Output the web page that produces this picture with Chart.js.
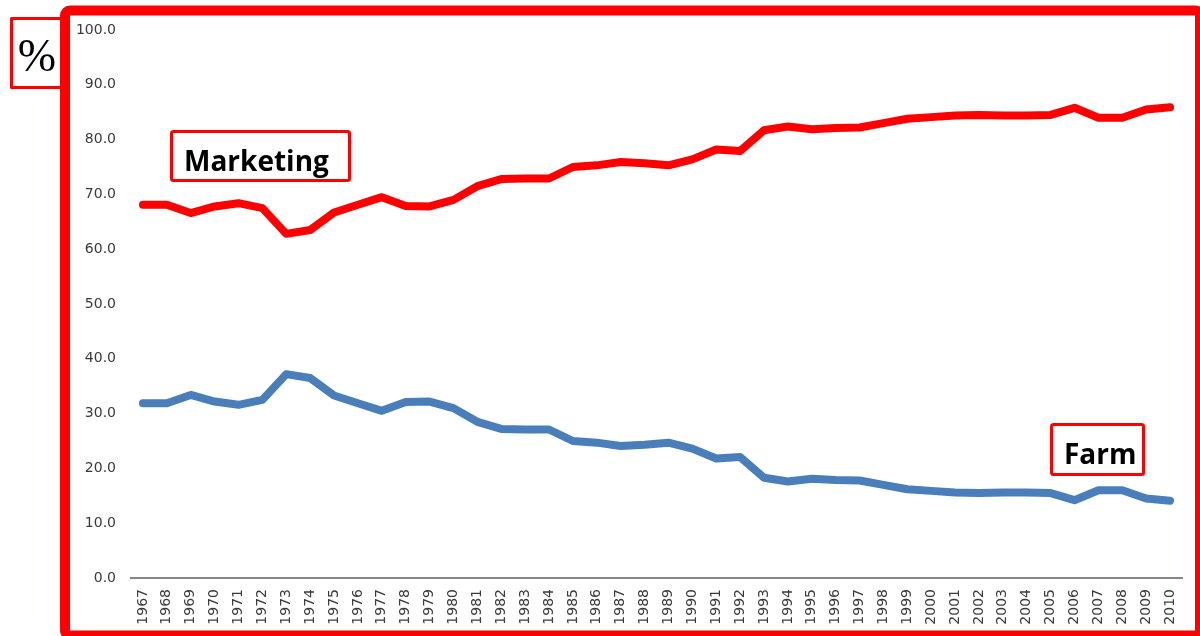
<!DOCTYPE html>
<html>
<head>
<meta charset="utf-8">
<script src="https://cdn.jsdelivr.net/npm/chart.js@4/dist/chart.umd.min.js"></script>
<style>
html,body{margin:0;padding:0;background:#fff;}
#wrap{position:relative;width:1200px;height:636px;}
</style>
</head>
<body>
<div id="wrap"><canvas id="c" width="1200" height="636"></canvas></div>
<script>
const years = ["1967","1968","1969","1970","1971","1972","1973","1974","1975","1976","1977","1978","1979","1980","1981","1982","1983","1984","1985","1986","1987","1988","1989","1990","1991","1992","1993","1994","1995","1996","1997","1998","1999","2000","2001","2002","2003","2004","2005","2006","2007","2008","2009","2010"];
const marketingShare = [68.1,68.1,66.6,67.8,68.4,67.5,62.8,63.5,66.7,68.1,69.5,67.9,67.8,69.0,71.5,72.8,72.9,72.9,75.0,75.3,75.9,75.7,75.3,76.4,78.2,77.9,81.7,82.4,81.9,82.1,82.2,83.0,83.8,84.1,84.4,84.5,84.4,84.4,84.5,85.8,84.0,84.0,85.5,85.9];
const farmShare = [31.9,31.9,33.4,32.2,31.6,32.5,37.2,36.5,33.3,31.9,30.5,32.1,32.2,31.0,28.5,27.2,27.1,27.1,25.0,24.7,24.1,24.3,24.7,23.6,21.8,22.1,18.3,17.6,18.1,17.9,17.8,17.0,16.2,15.9,15.6,15.5,15.6,15.6,15.5,14.2,16.0,16.0,14.5,14.1];
const yTickValues = [0,10,20,30,40,50,60,70,80,90,100];
const seriesNames = ["Marketing","Farm"];
const unitLabel = "%";

const decor = {
  id: 'decor',
  afterDraw(chart) {
    const ctx = chart.ctx;
    ctx.save();
    // outer frame
    ctx.strokeStyle = '#ff0000';
    ctx.lineWidth = 10;
    ctx.lineJoin = 'round';
    ctx.beginPath();
    ctx.roundRect(65, 10.5, 1135, 625, 5);
    ctx.stroke();
    // % box
    ctx.lineWidth = 3;
    ctx.strokeRect(11.5, 18.5, 50, 69);
    ctx.fillStyle = '#000';
    ctx.font = '46px "Liberation Serif"';
    ctx.textAlign = 'center';
    ctx.textBaseline = 'alphabetic';
    ctx.fillText(unitLabel, 37, 71);
    // Marketing box
    ctx.lineWidth = 3;
    ctx.beginPath();
    ctx.roundRect(171.5, 131.5, 178, 49, 2);
    ctx.stroke();
    ctx.font = 'bold 28px "Open Sans"';
    ctx.textAlign = 'left';
    ctx.fillText(seriesNames[0], 184, 171);
    // Farm box
    ctx.beginPath();
    ctx.roundRect(1051.5, 424.5, 92, 50, 2);
    ctx.stroke();
    ctx.fillText(seriesNames[1], 1064, 464);
    ctx.restore();
  }
};

new Chart(document.getElementById('c'), {
  type: 'line',
  data: {
    labels: years,
    datasets: [
      {label: seriesNames[0], data: marketingShare, borderColor: '#ff0000', backgroundColor: '#ff0000', borderWidth: 8, pointRadius: 0, tension: 0, borderCapStyle: 'round', borderJoinStyle: 'round'},
      {label: seriesNames[1], data: farmShare, borderColor: '#4a7ebb', backgroundColor: '#4a7ebb', borderWidth: 8, pointRadius: 0, tension: 0, borderCapStyle: 'round', borderJoinStyle: 'round'}
    ]
  },
  options: {
    responsive: false,
    animation: false,
    devicePixelRatio: 1,
    layout: {padding: {left: 0, right: 18, top: 30, bottom: 0}},
    plugins: {legend: {display: false}, tooltip: {enabled: false}},
    scales: {
      x: {
        type: 'category',
        offset: true,
        grid: {display: false, drawTicks: false},
        border: {display: true, color: '#868686', width: 2},
        ticks: {autoSkip: false, minRotation: 90, maxRotation: 90, padding: 11, color: '#3a3a3a', font: {family: 'DejaVu Sans', size: 14}},
        afterFit(s) { s.height = 58; }
      },
      y: {
        min: 0, max: 100,
        afterBuildTicks(s) { s.ticks = yTickValues.map(v => ({value: v})); },
        grid: {display: false, drawTicks: false},
        border: {display: false},
        ticks: {padding: 15, color: '#3a3a3a', font: {family: 'DejaVu Sans', size: 14}, callback: v => Number(v).toFixed(1)},
        afterFit(s) { s.width = 131; }
      }
    }
  },
  plugins: [decor]
});
</script>
</body>
</html>
